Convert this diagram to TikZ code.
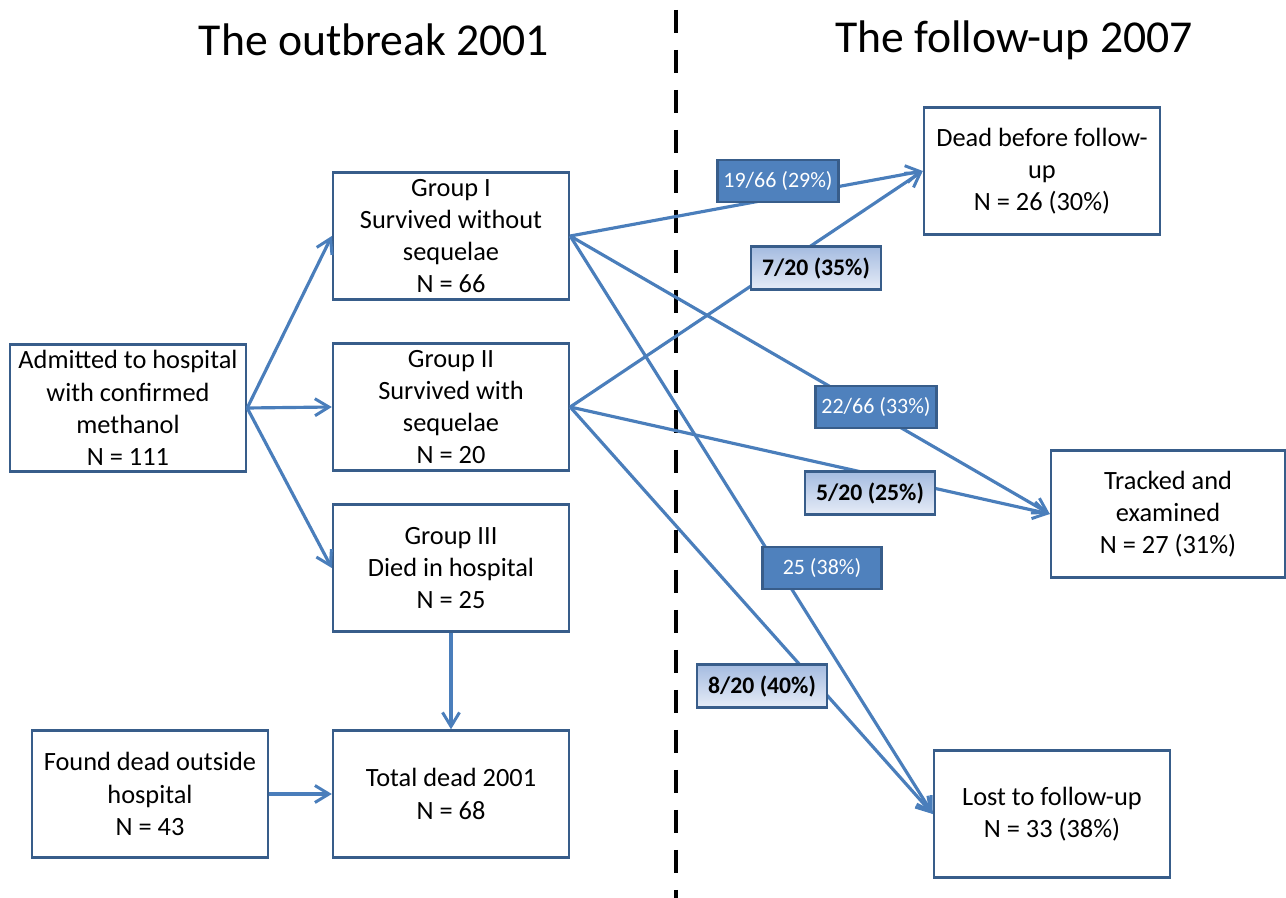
\documentclass[tikz,border=0pt]{standalone}
\usepackage{fontspec}
\setmainfont{Carlito}
\usetikzlibrary{arrows.meta,positioning}
\definecolor{flowblue}{HTML}{4A7EBB}
\definecolor{edgeblue}{HTML}{385D8A}
\definecolor{darklbl}{HTML}{4F81BD}
\definecolor{lighttop}{HTML}{A4BBE0}
\definecolor{lightbot}{HTML}{E6ECF7}

\begin{document}
\begin{tikzpicture}[x=0.02cm, y=-0.02cm,
  stagebox/.style={rectangle, draw=edgeblue, line width=1.4pt, fill=white, minimum width=4.72cm, minimum height=2.54cm, align=center, font=\fontsize{15}{18.3}\selectfont, inner sep=2pt},
  darktag/.style={rectangle, draw=edgeblue, line width=1.4pt, fill=darklbl, text=white, minimum width=2.38cm, minimum height=0.84cm, font=\fontsize{12.5}{14}\selectfont},
  lighttag/.style={rectangle, draw=edgeblue, line width=1.4pt, top color=lighttop, bottom color=lightbot, text=black, minimum width=2.6cm, minimum height=0.86cm, font=\fontsize{13.5}{15}\selectfont\bfseries},
  flow/.style={-{Straight Barb[length=2.8mm, width=3.4mm, line width=1.7pt]}, line width=1.8pt, flowblue},
  title/.style={font=\fontsize{26}{30}\selectfont}
]
  \useasboundingbox (0,0) rectangle (1286,898);

  % headings and divider
  \node[title] (left title) at (374,40) {The outbreak 2001};
  \node[title] (right title) at (1014,40) {The follow-up 2007};
  \coordinate (div top) at (676,10);
  \coordinate (div bot) at (676,898);
  \draw[line width=2.8pt, dash pattern=on 0.46cm off 0.34cm] (div top) -- (div bot);

  % outbreak boxes
  \node[stagebox] (admitted) at (128,408) {Admitted to hospital\\with confirmed\\methanol\\N = 111};
  \node[stagebox] (group1) at (451,236) {Group I\\Survived without\\sequelae\\N = 66};
  \node[stagebox] (group2) at (451,407) {Group II\\Survived with\\sequelae\\N = 20};
  \node[stagebox] (group3) at (451,568) {Group III\\Died in hospital\\N = 25};
  \node[stagebox] (found) at (150,794) {Found dead outside\\hospital\\N = 43};
  \node[stagebox] (total) at (451,794) {Total dead 2001\\N = 68};

  % follow-up boxes
  \node[stagebox] (dead) at (1042,171) {Dead before follow-\\up\\N = 26 (30\%)};
  \node[stagebox, minimum width=4.68cm] (tracked) at (1168,514) {Tracked and\\examined\\N = 27 (31\%)};
  \node[stagebox] (lost) at (1052,814) {Lost to follow-up\\N = 33 (38\%)};

  % connectors
  \draw[flow] (admitted.east) -- (group1.west);
  \draw[flow] (admitted.east) -- (group2.west);
  \draw[flow] (admitted.east) -- (group3.west);
  \draw[flow] (group3.south) -- (total.north);
  \draw[flow] (found.east) -- (total.west);
  \draw[flow] (group1.east) -- (dead.west);
  \draw[flow] (group1.east) -- (tracked.west);
  \draw[flow] (group1.east) -- (lost.west);
  \draw[flow] (group2.east) -- (dead.west);
  \draw[flow] (group2.east) -- (tracked.west);
  \draw[flow] (group2.east) -- (lost.west);

  % proportions on the connectors
  \node[darktag] (g1dead) at (778,181) {19/66 (29\%)};
  \node[lighttag] (g2dead) at (816,268) {7/20 (35\%)};
  \node[darktag] (g1tracked) at (876,407) {22/66 (33\%)};
  \node[lighttag] (g2tracked) at (870,493) {5/20 (25\%)};
  \node[darktag] (g1lost) at (822,568) {25 (38\%)};
  \node[lighttag] (g2lost) at (762,686) {8/20 (40\%)};
\end{tikzpicture}
\end{document}
